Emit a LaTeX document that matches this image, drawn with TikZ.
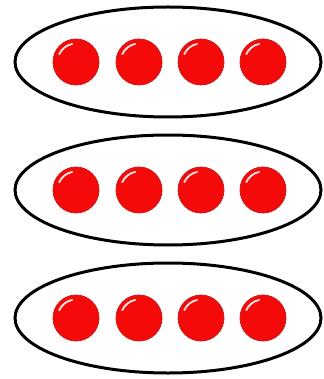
\documentclass[tikz,border=0pt]{standalone}
\begin{document}
\begin{tikzpicture}[x=1pt,y=-1pt,
  ring/.style={draw=black,line width=3pt,fill=white},
  ball/.style={circle,minimum size=46pt,inner sep=0pt,fill={rgb,255:red,245;green,10;blue,10},draw={rgb,255:red,205;green,25;blue,25},line width=0.8pt},
  shine/.style={draw=white,line width=1.8pt,line cap=round,opacity=0.9}]
\useasboundingbox (0,0) rectangle (323,379);
\foreach \row/\cy in {1/62,2/190,3/318}{
  \draw[ring] (168,\cy) ellipse [x radius=153, y radius=55];
  \foreach \col/\cx in {1/76,2/139,3/201,4/263}{
    \node[ball] (b\row\col) at (\cx,\cy) {};
    \draw[shine] ([shift={(205:18.5)}]b\row\col.center) arc[start angle=205,end angle=258,radius=18.5];
  }
}
\end{tikzpicture}
\end{document}
